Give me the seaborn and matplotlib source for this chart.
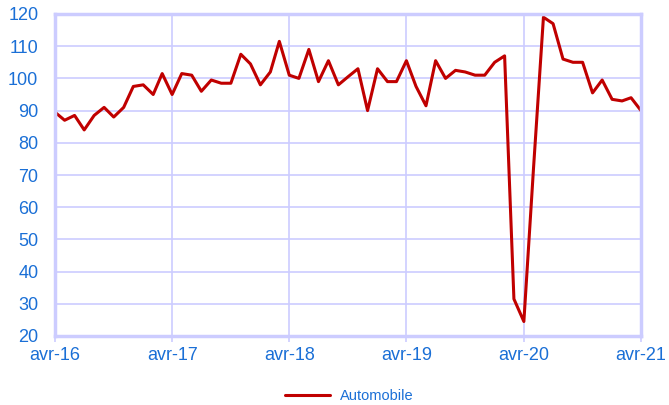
import matplotlib
matplotlib.use("Agg")
import matplotlib.pyplot as plt
import seaborn as sns
import pandas as pd

months = pd.date_range("2016-04-01", "2021-04-01", freq="MS")
automobile = [
    89.5, 87, 88.5, 84, 88.5, 91, 88, 91, 97.5, 98, 95, 101.5,   # avr16-mar17
    95, 101.5, 101, 96, 99.5, 98.5, 98.5, 107.5, 104.5, 98, 102, 111.5,  # avr17-mar18
    101, 100, 109, 99, 105.5, 98, 100.5, 103, 90, 103, 99, 99,   # avr18-mar19
    105.5, 97.5, 91.5, 105.5, 100, 102.5, 102, 101, 101, 105, 107, 31.5,  # avr19-mar20
    24.5, 72, 119, 117, 106, 105, 105, 95.5, 99.5, 93.5, 93, 94,  # avr20-mar21
    90,
]
tick_labels = ["avr-16", "avr-17", "avr-18", "avr-19", "avr-20", "avr-21"]
tick_dates = pd.to_datetime(["2016-04-01", "2017-04-01", "2018-04-01",
                             "2019-04-01", "2020-04-01", "2021-04-01"])

df = pd.DataFrame({"date": months, "value": automobile, "serie": "Automobile"})

sns.set_theme(style="white")
plt.rcParams["font.family"] = ["Liberation Sans", "DejaVu Sans"]

grid_c = "#ccccff"
text_c = "#1a6fd6"
line_c = "#c00000"

fig = plt.figure(figsize=(6.69, 4.05), dpi=100)
ax = fig.add_axes([55/669, 1-336/405, (641-55)/669, (336-14)/405])

sns.lineplot(data=df, x="date", y="value", hue="serie", palette=[line_c],
             linewidth=2.2, ax=ax, legend=True)

ax.set_ylim(20, 120)
ax.set_yticks(range(20, 121, 10))
ax.set_xlim(tick_dates[0], tick_dates[-1])
ax.set_xticks(tick_dates)
ax.set_xticklabels(tick_labels)
ax.set_xlabel("")
ax.set_ylabel("")

ax.grid(True, color=grid_c, linewidth=1.2)
ax.set_axisbelow(True)
for side in ["left", "top", "right", "bottom"]:
    ax.spines[side].set_color(grid_c)
    ax.spines[side].set_linewidth(2.5)
    ax.spines[side].set_visible(True)

ax.tick_params(axis="y", length=0, pad=12, labelsize=13, labelcolor=text_c)
ax.tick_params(axis="x", length=4.5, width=1.2, color=grid_c, direction="out",
               pad=3.5, labelsize=13, labelcolor=text_c, bottom=True)

leg = ax.legend(loc="center", bbox_to_anchor=(0.502, -0.186), frameon=False,
                fontsize=10.5, handlelength=3.1, handletextpad=0.7)
for t in leg.get_texts():
    t.set_color(text_c)

fig.savefig("out.png", dpi=100)
